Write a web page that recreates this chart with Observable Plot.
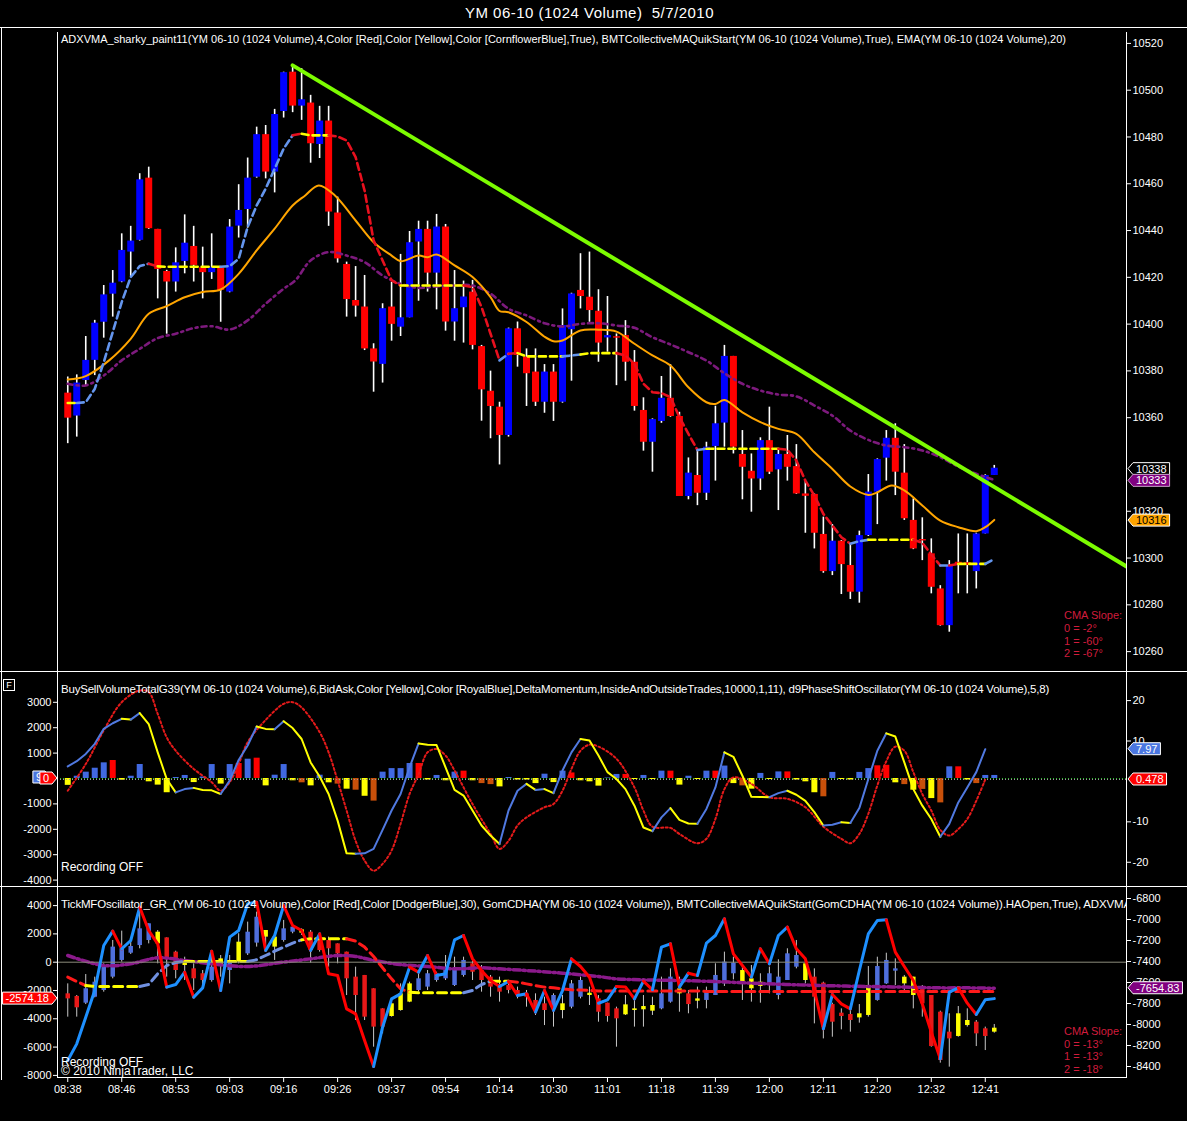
<!DOCTYPE html>
<html><head><meta charset="utf-8">
<script src="https://cdn.jsdelivr.net/npm/d3@7"></script>
<script src="https://cdn.jsdelivr.net/npm/@observablehq/plot@0.6"></script>
<style>
html,body{margin:0;padding:0;background:#000;}
#chart{position:relative;width:1187px;height:1121px;background:#000;overflow:hidden;font-family:"Liberation Sans",Arial,sans-serif;color:#fff;}
.layer{position:absolute;left:0;}
.txt{position:absolute;white-space:pre;color:#fff;line-height:1;}
.hl{position:absolute;height:1px;background:#fff;}
.vl{position:absolute;width:1px;background:#fff;}
</style></head><body><div id="chart"></div><script>
// ---------------- DATA ----------------
const xLabels = ["08:38","08:46","08:53","09:03","09:16","09:26","09:37","09:54","10:14","10:30","11:01","11:18","11:39","12:00","12:11","12:20","12:32","12:41"];
const xTickBars = [0,6,12,18,24,30,36,42,48,54,60,66,72,78,84,90,96,102];
const priceTicks = [10260,10280,10300,10320,10360,10380,10400,10420,10440,10460,10480,10500,10520];
const p2LeftTicks = [-4000,-3000,-2000,-1000,1000,2000,3000];
const p2RightTicks = [-20,-10,10,20];
const p3LeftTicks = [-8000,-6000,-4000,-2000,0,2000,4000];
const p3RightTicks = [-8400,-8200,-8000,-7800,-7600,-7400,-7200,-7000,-6800];

const mainOpen = [10370.5,10360.7,10375.9,10384.5,10400.8,10412.8,10418.0,10430.8,10435.8,10462.4,10440.5,10422.5,10418.0,10426.8,10433.2,10424.1,10422.0,10423.9,10413.7,10441.9,10449.0,10462.8,10481.0,10465.0,10490.9,10507.7,10493.2,10494.5,10476.8,10486.8,10447.5,10425.5,10410.1,10407.3,10389.4,10382.8,10407.3,10398.7,10402.7,10435.1,10440.5,10421.8,10441.5,10400.9,10407.0,10413.7,10390.4,10371.3,10364.5,10352.4,10398.0,10385.9,10379.5,10366.6,10379.5,10366.6,10397.6,10414.4,10411.5,10405.5,10394.1,10394.6,10395.1,10383.7,10363.1,10349.5,10358.4,10368.3,10360.5,10326.3,10335.3,10327.7,10347.7,10357.7,10386.2,10344.3,10337.1,10333.8,10350.2,10337.7,10344.3,10339.1,10327.4,10327.2,10310.1,10294.2,10307.2,10296.8,10285.4,10309.6,10328.2,10342.7,10351.2,10336.3,10316.1,10307.9,10301.8,10286.8,10271.1,10298.2,10298.0,10294.2,10310.3,10335.3];
const mainHigh = [10377.4,10378.3,10394.7,10401.6,10416.5,10422.9,10438.6,10441.8,10464.3,10467.1,10440.5,10423.0,10432.6,10446.7,10441.8,10432.9,10438.6,10424.2,10444.7,10459.6,10471.0,10484.2,10484.9,10491.8,10507.7,10510.2,10509.2,10497.8,10493.1,10493.1,10454.3,10426.5,10424.6,10420.8,10391.6,10408.7,10417.9,10429.8,10439.6,10444.0,10444.0,10446.9,10442.6,10422.9,10418.4,10418.7,10390.9,10379.9,10366.6,10398.3,10400.9,10389.4,10389.4,10382.7,10382.7,10406.5,10413.2,10430.1,10430.8,10414.7,10411.8,10395.8,10401.5,10388.7,10368.5,10359.5,10377.6,10382.7,10362.3,10342.8,10346.0,10349.5,10364.9,10390.9,10386.2,10354.5,10344.5,10351.4,10364.5,10346.0,10352.4,10348.5,10332.9,10327.4,10317.5,10314.3,10307.5,10306.1,10311.5,10335.7,10342.4,10354.5,10357.4,10348.5,10325.3,10317.2,10308.2,10288.2,10298.9,10310.3,10310.3,10310.6,10335.6,10339.6];
const mainLow = [10348.9,10351.7,10373.8,10378.0,10394.0,10403.0,10417.7,10420.1,10435.5,10440.5,10410.8,10395.7,10413.7,10421.5,10418.0,10410.8,10419.1,10400.8,10413.4,10436.8,10441.0,10462.4,10462.1,10456.1,10488.1,10490.4,10487.1,10468.8,10470.8,10441.8,10426.1,10403.0,10403.0,10388.7,10370.9,10374.8,10392.7,10394.7,10402.7,10409.8,10413.7,10406.1,10397.0,10392.7,10391.9,10389.0,10358.5,10351.0,10339.8,10351.7,10381.6,10364.8,10364.8,10361.9,10358.4,10366.2,10375.6,10406.5,10400.8,10383.7,10388.0,10373.7,10375.6,10362.8,10345.7,10336.7,10357.6,10360.2,10326.3,10324.9,10322.4,10324.6,10332.9,10347.4,10344.5,10324.9,10319.6,10328.9,10335.7,10320.3,10332.9,10327.2,10310.6,10303.9,10293.5,10292.5,10284.4,10282.3,10280.7,10309.2,10314.3,10332.9,10326.7,10316.1,10303.6,10298.9,10284.7,10270.9,10268.3,10284.7,10284.7,10286.8,10310.3,10335.3];
const mainClose = [10359.8,10374.8,10384.5,10400.4,10412.5,10417.5,10431.5,10435.5,10461.7,10440.8,10423.4,10418.0,10426.2,10434.6,10425.1,10422.0,10424.1,10414.4,10441.5,10448.6,10462.4,10481.0,10465.0,10489.6,10507.5,10493.2,10495.9,10477.1,10486.8,10447.9,10427.9,10410.5,10407.7,10389.4,10383.8,10406.6,10399.9,10402.7,10434.8,10440.5,10421.8,10441.5,10400.9,10406.6,10411.6,10390.9,10371.9,10364.8,10352.4,10398.0,10386.6,10378.8,10366.6,10379.5,10366.6,10399.4,10412.9,10411.8,10405.8,10391.9,10395.1,10394.0,10383.7,10364.8,10349.5,10359.2,10368.3,10360.5,10326.3,10336.3,10327.7,10347.4,10357.4,10386.2,10347.4,10338.8,10333.8,10350.2,10336.7,10344.3,10338.8,10327.4,10326.4,10310.6,10294.2,10307.2,10297.2,10285.4,10309.6,10328.2,10342.1,10351.2,10336.7,10316.8,10303.9,10307.3,10287.5,10271.1,10296.8,10297.1,10296.8,10310.3,10335.3,10338.4];

const emaPts = [[0,10376.3],[2,10377.8],[4.6,10384.5],[7,10393.7],[9,10404.4],[11,10407.7],[13,10411.5],[15,10413.7],[17,10414.8],[19,10421.5],[21,10431.5],[23,10440.8],[25,10450.7],[26.4,10455],[27.9,10459.3],[29.7,10455],[32,10444.3],[34,10435.0],[36,10429.3],[37,10426.9],[39,10429.3],[40,10428.6],[41,10429.8],[43,10425.1],[45,10420.1],[47,10411.5],[48,10405.6],[49,10405.1],[51,10400.9],[53,10394.6],[54,10392.7],[55,10393.0],[57,10397.3],[59,10397.6],[61,10396.8],[63,10391.6],[65,10386.6],[67,10382.3],[69,10373.0],[71,10366.6],[72,10365.9],[73,10367.6],[75,10362.3],[77,10358.1],[79,10355.2],[81,10353.1],[83,10345.2],[85,10338.1],[87,10330.6],[89,10327.0],[90,10328.1],[91.6,10331.0],[93,10328.9],[95,10322.5],[97,10316.0],[99,10313.2],[101,10311.5],[102,10313.2],[103,10316.3]];
const cmaPts = [[0,10374.5],[2,10373.8],[4,10378.0],[6,10384.5],[8,10389.4],[10,10394.0],[12,10395.9],[14,10398.3],[16,10399.1],[18,10397.7],[20,10401.6],[22,10408.7],[24,10415.1],[25.3,10418.7],[27,10427.2],[29,10430.8],[31,10429.3],[33,10426.5],[35,10420.8],[37,10417.2],[39,10415.5],[41,10416.1],[43,10416.5],[45,10416.5],[47,10413.0],[49,10406.6],[51,10403.7],[53,10400.4],[55,10399.0],[57,10400.1],[59,10400.4],[61,10399.4],[63,10398.4],[65,10394.4],[67,10391.3],[69,10388.0],[71,10384.4],[73,10379.0],[75,10374.5],[77,10371.6],[79,10369.9],[81,10369.1],[83,10365.2],[85,10360.9],[87,10354.5],[89,10350.5],[91,10348.1],[93,10347.4],[95,10346.0],[97,10343.1],[99,10339.1],[101,10336.0],[103,10333.4]];
const adxVals = [10366.3,10366.3,10366.6,10372.3,10383.7,10396.6,10409.4,10420.1,10424.8,10425.8,10424.7,10424.5,10424.5,10424.5,10424.5,10424.5,10424.5,10424.5,10424.8,10427.9,10441.5,10450.7,10457.9,10466.4,10475.0,10480.7,10481.4,10480.7,10480.7,10480.7,10480.2,10478.5,10471.4,10457.1,10435.8,10427.2,10418.7,10416.5,10416.5,10416.5,10416.5,10416.5,10416.5,10416.5,10416.5,10415.8,10407.3,10395.9,10384.5,10387.3,10387.6,10386.2,10386.2,10386.2,10386.2,10386.2,10386.6,10387.0,10387.6,10387.6,10387.6,10387.6,10386.6,10383.0,10374.5,10370.9,10370.5,10368.8,10360.2,10353.1,10346.2,10346.7,10346.7,10346.7,10346.7,10346.7,10346.7,10346.7,10346.7,10346.7,10346.3,10341.7,10333.1,10326.7,10318.9,10313.9,10308.9,10306.1,10307.2,10307.8,10307.8,10307.8,10307.8,10307.8,10307.8,10306.5,10301.5,10296.8,10296.8,10297.5,10297.5,10297.5,10297.5,10299.6];
const adxState = ("yybbbbbbbb"+"ryyyyyyybb"+"bbbbbbryyy"+"rrrrrrrryy"+"yyyyyrrrrb"+"ryyyyybbyy"+"yyrrrrrrrr"+"rbyyyyyyyy"+"rrrrrrrrbb"+"yyyyyrrrbr"+"yyyb").split("");
const trendLine = [[25,10510.6],[117.7,10296.4]];

const bsvVals = [-270,90,250,405,617,709,-70,90,551,-130,-260,-560,40,120,-160,60,550,-220,550,590,760,800,-290,130,550,-90,-170,-290,130,-170,-220,-420,-460,-700,-890,250,390,390,590,590,-60,120,-90,250,290,-90,-200,-240,-330,40,-60,-60,-200,170,-160,290,220,-90,-130,-300,20,160,160,-40,120,-40,290,290,-260,90,-40,290,290,490,-200,-290,-420,200,-40,260,260,-60,-130,-560,-720,240,-40,-60,240,390,500,520,-170,-240,-460,-430,-790,-960,460,460,-60,-200,120,120];
const bsvKind = ("ybbbbrybby"+"yybbybbybr"+"brybbyoyby"+"oyoyobbbbr"+"ybybryooyb"+"yyybybryyy"+"bbrybybryb"+"ybrbyoybyb"+"ryyyobyybb"+"rryoyoyobr"+"yobb").split("");
const oscVals = [3.7,5.0,6.8,9.3,13.0,14.4,15.5,15.3,16.9,14.2,7.2,0.6,-2.7,-1.9,-1.6,-2.1,-2.2,-3.1,0.2,5.3,8.9,13.6,13.0,12.9,14.9,13.2,10.5,4.7,1.2,-3.1,-9.7,-17.8,-17.9,-17.8,-16.7,-12.0,-7.2,-3.1,3.5,9.4,9.1,9.0,3.5,-2.1,-3.5,-7.2,-10.9,-13.4,-15.5,-7.2,-2.3,-0.6,-2.1,-1.9,-2.9,2.7,7.2,10.5,10.1,6.4,2.3,0.6,-1.9,-6.0,-11.4,-12.3,-8.9,-6.6,-9.5,-10.4,-10.5,-6.8,-1.5,7.2,6.1,1.4,-3.8,-3.85,-3.9,-2.9,-2.3,-3.3,-4.8,-7.6,-10.9,-10.7,-10.1,-10.3,-6.6,0.6,7.6,11.9,11.1,4.7,-1.9,-6.0,-9.3,-13.7,-10.5,-5.2,-1.5,2.3,7.97];
const sigPts = [[0,-2.3],[2,4.3],[4,12.6],[6,19.6],[8,22.5],[9,22.1],[10,16.7],[11,10.9],[12,7.6],[14,3.1],[16,-0.2],[17,-2.3],[18,-0.2],[19,4.3],[20,9.7],[22,15.2],[24,19.2],[25,19.6],[26,18.3],[28,12.2],[29,7.2],[30,0.2],[31,-7.2],[32,-14.7],[33,-19.6],[34,-22.1],[35,-20.4],[36,-17.1],[37,-10.5],[38,-3.1],[39,1.8],[40,7.2],[41,8.0],[42,6.4],[43,2.7],[45,-5.6],[47,-13.0],[48,-16.7],[49,-14.7],[50,-10.9],[51,-8.9],[53,-6.4],[54,-5.6],[55,-2.3],[56,3.1],[57,7.6],[58,9.1],[59,8.6],[61,5.6],[63,-1.5],[64,-7.2],[65,-11.2],[67,-11.5],[68,-13.0],[70,-15.3],[71,-14.2],[72,-9.3],[73,-1.9],[74,1.0],[76,-0.6],[78,-3.9],[80,-4.3],[82,-6.4],[84,-11.2],[86,-14.2],[87,-15.3],[88,-13.0],[89,-8.0],[90,-1.0],[91,5.0],[92,8.6],[93,7.6],[94,2.3],[95,-3.1],[96,-7.2],[97,-12.0],[98,-13.4],[99,-11.8],[100,-9.3],[101,-4.8],[102,0.478]];

const tmfVals = [-6948,-5770,-3886,-2001,1180,2193,944,1533,3889,2240,1298,-1765,-1577,-705,-2472,-1812,779,-2001,1769,2240,4125,4243,826,1887,4007,2593,2240,826,2004,-823,-941,-3297,-3650,-5535,-7372,-4592,-2590,-2236,-352,-705,473,-941,-823,1580,1887,237,-587,-1294,-1718,-1365,-2354,-2236,-3532,-2001,-3414,-2001,237,-304,-1058,-2900,-2660,-1718,-1750,-2590,-1341,-1954,1062,1298,-1765,-776,-941,1345,1887,3065,591,-234,-1058,944,-116,1887,2476,944,237,-2001,-4710,-2284,-2943,-3297,-587,2004,2947,2994,709,-304,-1294,-2943,-4946,-6831,-2119,-1812,-2896,-3697,-2660,-2574.18];
const cdOpen = [-7708,-7733,-7797,-7740,-7676,-7549,-7390,-7321,-7248,-7200,-7121,-7175,-7311,-7390,-7470,-7517,-7581,-7375,-7486,-7406,-7327,-7225,-7105,-7168,-7200,-7121,-7098,-7121,-7184,-7200,-7232,-7311,-7549,-7533,-7660,-7851,-7803,-7708,-7613,-7676,-7644,-7581,-7565,-7629,-7533,-7422,-7486,-7549,-7619,-7629,-7676,-7708,-7771,-7803,-7851,-7803,-7835,-7740,-7702,-7756,-7797,-7851,-7813,-7851,-7829,-7819,-7851,-7787,-7660,-7708,-7756,-7771,-7724,-7613,-7517,-7486,-7565,-7597,-7613,-7724,-7581,-7454,-7422,-7549,-7606,-7810,-7892,-7905,-7898,-7629,-7771,-7613,-7492,-7549,-7549,-7638,-7724,-7883,-8073,-7898,-7962,-7978,-8041,-8035];
const cdHigh = [-7613,-7724,-7524,-7549,-7422,-7200,-7111,-7200,-6914,-7041,-7105,-7175,-7302,-7359,-7422,-7486,-7295,-7343,-7343,-7136,-7025,-6930,-7105,-7136,-7009,-7057,-7089,-7105,-7168,-7168,-7232,-7311,-7454,-7533,-7660,-7851,-7771,-7613,-7597,-7517,-7486,-7502,-7343,-7359,-7359,-7390,-7438,-7533,-7549,-7613,-7644,-7676,-7708,-7740,-7708,-7724,-7581,-7549,-7644,-7724,-7797,-7835,-7724,-7756,-7724,-7740,-7549,-7470,-7549,-7676,-7644,-7644,-7422,-7311,-7359,-7438,-7438,-7517,-7454,-7384,-7279,-7200,-7390,-7470,-7597,-7797,-7851,-7851,-7810,-7448,-7359,-7321,-7375,-7533,-7549,-7629,-7724,-7873,-7898,-7829,-7851,-7962,-8025,-8000];
const cdLow = [-7930,-7930,-7810,-7746,-7692,-7565,-7406,-7333,-7279,-7232,-7422,-7549,-7565,-7581,-7676,-7644,-7597,-7549,-7613,-7422,-7343,-7263,-7263,-7390,-7216,-7136,-7152,-7416,-7311,-7454,-7422,-7724,-7962,-7962,-8216,-8089,-7930,-7873,-7792,-7692,-7676,-7597,-7581,-7638,-7549,-7581,-7692,-7740,-7787,-7708,-7756,-7835,-7914,-8010,-8025,-7946,-7851,-7756,-7819,-7978,-7978,-8216,-7914,-8025,-8025,-7914,-7860,-7797,-7883,-7898,-7851,-7851,-7724,-7638,-7575,-7771,-7787,-7797,-7708,-7765,-7581,-7470,-7613,-7994,-8137,-8121,-8051,-8073,-7987,-7930,-7778,-7619,-7629,-7676,-7851,-7930,-8216,-8368,-8406,-8121,-8025,-8210,-8248,-8083];
const cdClose = [-7756,-7841,-7660,-7597,-7438,-7263,-7279,-7257,-7089,-7041,-7232,-7375,-7486,-7438,-7565,-7581,-7454,-7438,-7406,-7216,-7121,-6978,-7168,-7263,-7089,-7073,-7130,-7295,-7295,-7279,-7327,-7565,-7724,-7930,-8025,-8025,-7924,-7867,-7787,-7565,-7517,-7517,-7486,-7470,-7390,-7502,-7581,-7644,-7692,-7676,-7724,-7740,-7873,-7867,-7724,-7867,-7613,-7581,-7724,-7883,-7924,-7946,-7908,-7867,-7860,-7873,-7708,-7549,-7708,-7810,-7778,-7692,-7533,-7406,-7416,-7597,-7660,-7638,-7517,-7549,-7327,-7343,-7581,-7740,-8025,-7978,-7924,-7962,-7937,-7914,-7448,-7390,-7470,-7613,-7724,-7803,-8210,-8343,-8137,-8114,-8010,-8089,-8114,-8073];
const cdKind = ("rrbbbbbbbb"+"yrryrrbyby"+"bbyybbyrrr"+"rrrrrryyyb"+"bbbbbrrrrr"+"rrrrbybbyr"+"rryyyybbyr"+"ybbbbyyybb"+"bbyrrrrryy"+"bbbyyrrrry"+"yrry").split("");
const p3AdxVals = [-7549,-7590,-7629,-7638,-7638,-7638,-7638,-7638,-7638,-7619,-7517,-7438,-7410,-7400,-7400,-7400,-7400,-7400,-7400,-7400,-7400,-7384,-7343,-7302,-7263,-7225,-7194,-7184,-7184,-7184,-7184,-7184,-7206,-7263,-7352,-7460,-7565,-7660,-7692,-7698,-7698,-7698,-7698,-7698,-7698,-7676,-7619,-7587,-7587,-7587,-7597,-7613,-7629,-7644,-7651,-7660,-7670,-7672,-7676,-7680,-7680,-7680,-7680,-7680,-7680,-7680,-7680,-7680,-7680,-7680,-7680,-7686,-7686,-7686,-7686,-7686,-7686,-7686,-7686,-7686,-7686,-7686,-7686,-7686,-7686,-7686,-7686,-7686,-7686,-7686,-7686,-7686,-7686,-7686,-7686,-7686,-7686,-7686,-7686,-7686,-7686,-7686,-7686,-7686];
const p3AdxState = ("rrryyyyyyb"+"bbbbyyyyyy"+"ybbbbbbyyy"+"yyrrrrrrry"+"yyyyybbbyy"+"rrrrrrrrrr"+"rrrrrrrrrr"+"rrrrrrrrrr"+"rrrrrrrrrr"+"rrrrrrrrrr"+"rrrr").split("");
const p3CmaPts = [[0,-7343],[4,-7438],[7,-7422],[10,-7365],[13,-7390],[16,-7422],[20,-7448],[24,-7406],[27,-7375],[30,-7343],[32,-7352],[34,-7390],[37,-7429],[40,-7448],[43,-7470],[46,-7460],[48,-7470],[51,-7486],[55,-7511],[59,-7543],[61,-7565],[64,-7575],[68,-7581],[72,-7591],[76,-7606],[80,-7619],[84,-7629],[89,-7638],[93,-7644],[97,-7651],[100,-7651],[103,-7654.83]];

// ---------------- HELPERS ----------------
const W = 1187, FONT = "'Liberation Sans', Arial, sans-serif";
const X_DOMAIN = [-1.14, 117.7];
const bars = d3.range(mainOpen.length);
const chart = document.getElementById("chart");
const styleT = {background: "transparent", color: "#fff", fontFamily: FONT, fontSize: "11px", overflow: "visible"};
const common = {width: W, marginLeft: 57, marginRight: 61, marginTop: 0};
const ADX_COL = {r: "#e8101e", y: "#ffff00", b: "#6495ed"};
const P3ADX_COL = {r: "#ff1a1a", y: "#ffff00", b: "#7090e0"};
const HIST_COL = {b: "#4169e1", r: "#ff0000", y: "#ffff00", o: "#c8500a"};
const CD_COL = {b: "#4f6fdc", r: "#e81818", y: "#ffff00"};
const fmt = d => String(d);

function runs(xs, vs, ks) {
  const rows = []; let run = -1, cur = null;
  for (let i = 1; i < xs.length; i++) {
    if (ks[i] !== cur) { run++; cur = ks[i]; rows.push({x: xs[i-1], y: vs[i-1], run, k: cur}); }
    rows.push({x: xs[i], y: vs[i], run, k: cur});
  }
  return rows;
}
function place(svg, top) {
  const d = document.createElement("div");
  d.className = "layer"; d.style.top = top + "px";
  d.appendChild(svg); chart.appendChild(d);
  return svg;
}
function tag(svg, value, text, o) {
  const y = svg.scale("y").apply(value);
  const g = d3.select(svg).append("g").attr("font-size", 11).attr("font-family", FONT).attr("text-anchor", "start");
  const t = g.append("text").attr("fill", o.color || "#fff").attr("text-anchor", "start").attr("dy", "0.36em").text(text);
  const tw = t.node().getComputedTextLength();
  const h = 12, w = tw + 6, a = 5, xt = o.x;
  let p, tx;
  if (o.side === "left") {
    p = `M${xt},${y}L${xt-a},${y-h/2}L${xt-a-w},${y-h/2}L${xt-a-w},${y+h/2}L${xt-a},${y+h/2}Z`; tx = xt - a - w + 3;
  } else {
    p = `M${xt},${y}L${xt+a},${y-h/2}L${xt+a+w},${y-h/2}L${xt+a+w},${y+h/2}L${xt+a},${y+h/2}Z`; tx = xt + a + 3;
  }
  g.insert("path", "text").attr("d", p).attr("fill", o.fill).attr("stroke", o.stroke || "none").attr("stroke-width", 1);
  t.attr("x", tx).attr("y", y);
}
function text(str, left, top, size, color, target, extra) {
  const s = document.createElement("div");
  s.className = "txt"; s.textContent = str;
  s.style.left = left + "px"; s.style.top = top + "px"; s.style.fontSize = size + "px";
  if (color) s.style.color = color;
  if (extra) Object.assign(s.style, extra);
  chart.appendChild(s);
  if (target) {
    const w = s.getBoundingClientRect().width;
    s.style.letterSpacing = ((target - w) / str.length) + "px";
  }
  return s;
}
function line(cls, left, top, len) {
  const d = document.createElement("div"); d.className = cls;
  d.style.left = left + "px"; d.style.top = top + "px";
  if (cls === "hl") d.style.width = len + "px"; else d.style.height = len + "px";
  chart.appendChild(d);
}

// ---------------- MAIN PANEL ----------------
const candles = bars.map(i => ({i, o: mainOpen[i], h: mainHigh[i], l: mainLow[i], c: mainClose[i]}));
const adxRows = runs(bars, adxVals, adxState);
const mainSvg = place(Plot.plot({
  ...common, height: 644, marginBottom: 0,
  x: {domain: X_DOMAIN, axis: null},
  y: {domain: [10251.5, 10526.8]},
  color: {type: "identity"},
  style: styleT,
  marks: [
    Plot.axisY({anchor: "right", ticks: priceTicks, tickFormat: fmt, tickSize: 4, tickPadding: 2, label: null}),
    Plot.ruleX(candles, {x: "i", y1: "l", y2: "h", stroke: "#fff", strokeWidth: 1.6, clip: true}),
    Plot.ruleX(candles, {x: "i", y1: "o", y2: "c", stroke: d => d.c >= d.o ? "#0000ff" : "#ff0000", strokeWidth: 7, clip: true}),
    Plot.line(cmaPts, {x: d => d[0], y: d => d[1], stroke: "#7d1a7d", strokeWidth: 2.6, strokeDasharray: "5,4,2,4", curve: "catmull-rom", clip: true}),
    Plot.line(emaPts, {x: d => d[0], y: d => d[1], stroke: "#ffa500", strokeWidth: 2, curve: "catmull-rom", clip: true}),
    Plot.line(adxRows, {x: "x", y: "y", z: "run", stroke: d => ADX_COL[d.k], strokeWidth: 2.6, strokeDasharray: "7,4", clip: true}),
    Plot.line(trendLine, {x: d => d[0], y: d => d[1], stroke: "#7cfc00", strokeWidth: 4, clip: true})
  ]
}), 27);

// ---------------- PANEL 2 ----------------
const hist = bars.map(i => ({i, v: bsvVals[i], k: bsvKind[i]}));
const oscBars = oscVals.map((v, i) => i);
const oscState = oscVals.map((v, i) => i === 0 ? "b" : (v >= oscVals[i-1] ? "b" : "y"));
const oscRows = runs(oscBars, oscVals, oscState);
const p2L = place(Plot.plot({
  ...common, height: 215, marginBottom: 0,
  x: {domain: X_DOMAIN, axis: null}, y: {domain: [-4252, 4213]},
  color: {type: "identity"}, style: styleT,
  marks: [
    Plot.axisY({anchor: "left", ticks: p2LeftTicks, tickFormat: fmt, tickSize: 4, tickPadding: 2, label: null}),
    Plot.ruleY([0], {stroke: "#2fbf2f", strokeDasharray: "1,2"}),
    Plot.ruleX(hist, {x: "i", y1: d => 0, y2: "v", stroke: d => HIST_COL[d.k], strokeWidth: 6})
  ]
}), 671);
const p2R = place(Plot.plot({
  ...common, height: 215, marginBottom: 0,
  x: {domain: X_DOMAIN, axis: null}, y: {domain: [-26.0, 27.2]},
  color: {type: "identity"}, style: styleT,
  marks: [
    Plot.axisY({anchor: "right", ticks: p2RightTicks, tickFormat: fmt, tickSize: 4, tickPadding: 2, label: null}),
    Plot.ruleY([0.478], {stroke: "#9a9a9a", strokeDasharray: "1,2"}),
    Plot.line(sigPts, {x: d => d[0], y: d => d[1], stroke: "#e41a1a", strokeWidth: 2, strokeDasharray: "2,2.5", curve: "catmull-rom", clip: true}),
    Plot.line(oscRows, {x: "x", y: "y", z: "run", stroke: d => d.k === "b" ? "#5079e0" : "#ffff00", strokeWidth: 2, clip: true})
  ]
}), 671);

// ---------------- PANEL 3 ----------------
const cd = bars.map(i => ({i, o: cdOpen[i], h: cdHigh[i], l: cdLow[i], c: cdClose[i], k: cdKind[i]}));
const p3AdxRows = runs(bars, p3AdxVals, p3AdxState);
const tmfState = tmfVals.map((v, i) => i === 0 ? "b" : (v >= tmfVals[i-1] ? "b" : "r"));
const tmfRows = runs(bars, tmfVals, tmfState);
const p3R = place(Plot.plot({
  ...common, height: 235, marginBottom: 44,
  x: {domain: X_DOMAIN, axis: null}, y: {domain: [-8504.8, -6685.7]},
  color: {type: "identity"}, style: styleT,
  marks: [
    Plot.axisY({anchor: "right", ticks: p3RightTicks, tickFormat: fmt, tickSize: 4, tickPadding: 2, label: null}),
    Plot.ruleX(cd, {x: "i", y1: "l", y2: "h", stroke: "#c8c8c8", strokeWidth: 1, clip: true}),
    Plot.ruleX(cd, {x: "i", y1: "o", y2: "c", stroke: d => CD_COL[d.k], strokeWidth: 4.5, clip: true}),
    Plot.line(p3CmaPts, {x: d => d[0], y: d => d[1], stroke: "#8b1a8b", strokeWidth: 3.5, strokeDasharray: "7,3,2,3", curve: "catmull-rom", clip: true}),
    Plot.line(p3AdxRows, {x: "x", y: "y", z: "run", stroke: d => P3ADX_COL[d.k], strokeWidth: 3, strokeDasharray: "9,5", clip: true})
  ]
}), 886);
const p3L = place(Plot.plot({
  ...common, height: 235, marginBottom: 44,
  x: {domain: X_DOMAIN}, y: {domain: [-8149, 5350]},
  color: {type: "identity"}, style: styleT,
  marks: [
    Plot.axisY({anchor: "left", ticks: p3LeftTicks, tickFormat: fmt, tickSize: 4, tickPadding: 2, label: null}),
    Plot.axisX({anchor: "bottom", ticks: xTickBars, tickFormat: d => xLabels[xTickBars.indexOf(d)], tickSize: 5, tickPadding: 3, label: null}),
    Plot.ruleY([0], {stroke: "#8c8c7c", strokeWidth: 1}),
    Plot.line(tmfRows, {x: "x", y: "y", z: "run", stroke: d => d.k === "b" ? "#1e90ff" : "#ff0000", strokeWidth: 3, clip: true})
  ]
}), 886);

// ---------------- FRAME LINES ----------------
line("hl", 0, 27, 1187);
line("hl", 0, 671, 1187);
line("hl", 0, 886, 1187);
line("hl", 57, 1077, 1070);
line("vl", 57, 32, 1045);
line("vl", 1126, 32, 1045);
line("vl", 1, 27, 1053);

// ---------------- TAGS ----------------
tag(mainSvg, 10338, "10338", {x: 1128, fill: "#000", stroke: "#fff"});
tag(mainSvg, 10333, "10333", {x: 1128, fill: "#800080", stroke: "#c8a0c8"});
tag(mainSvg, 10316, "10316", {x: 1128, fill: "#ffa500", color: "#000", stroke: "#fff"});
tag(p2R, 7.97, "7.97", {x: 1128, fill: "#4a76e0", stroke: "#fff"});
tag(p2R, 0.478, "0.478", {x: 1128, fill: "#ff0000", stroke: "#fff"});
tag(p2L, 40, "9", {x: 50, side: "left", fill: "#4a76e0", stroke: "#fff"});
tag(p2L, 0, "0", {x: 57, side: "left", fill: "#ff0000", stroke: "#fff"});
tag(p3L, -2574.18, "-2574.18", {x: 57, side: "left", fill: "#ff0000", stroke: "#fff"});
tag(p3R, -7654.83, "-7654.83", {x: 1128, fill: "#800080", stroke: "#fff"});

// ---------------- TEXTS ----------------
text("YM 06-10 (1024 Volume)  5/7/2010", 465, 5, 15, "#fff", 249);
text("ADXVMA_sharky_paint11(YM 06-10 (1024 Volume),4,Color [Red],Color [Yellow],Color [CornflowerBlue],True), BMTCollectiveMAQuikStart(YM 06-10 (1024 Volume),True), EMA(YM 06-10 (1024 Volume),20)", 61, 34, 11, "#fff", 1005);
text("BuySellVolumeTotalG39(YM 06-10 (1024 Volume),6,BidAsk,Color [Yellow],Color [RoyalBlue],DeltaMomentum,InsideAndOutsideTrades,10000,1,11), d9PhaseShiftOscillator(YM 06-10 (1024 Volume),5,8)", 61, 684, 11.5, "#fff", 988);
const p3head = "TickMFOscillator_GR_(YM 06-10 (1024 Volume),Color [Red],Color [DodgerBlue],30), GomCDHA(YM 06-10 (1024 Volume)), BMTCollectiveMAQuikStart(GomCDHA(YM 06-10 (1024 Volume)).HAOpen,True), ";
const h3 = text(p3head, 61, 899, 11.5, "#fff", 1023);
const clipBox = document.createElement("div");
Object.assign(clipBox.style, {position: "absolute", left: "61px", top: "899px", width: "1065px", height: "14px", overflow: "hidden"});
chart.appendChild(clipBox);
h3.style.left = "0px"; h3.style.top = "0px";
h3.textContent = p3head + "ADXVMA";
clipBox.appendChild(h3);
text("Recording OFF", 61, 861, 12, "#fff");
text("Recording OFF", 61, 1056, 12, "#fff");
text("© 2010 NinjaTrader, LLC", 61, 1065, 12, "#fff");
const cmaRed = "#d01c3c";
[["CMA Slope:", 610], ["0 = -2°", 623], ["1 = -60°", 635.5], ["2 = -67°", 648]].forEach(([s, t]) => text(s, 1064, t, 11, cmaRed));
[["CMA Slope:", 1026], ["0 = -13°", 1039], ["1 = -13°", 1051], ["2 = -18°", 1064]].forEach(([s, t]) => text(s, 1064, t, 11, cmaRed));
const fbox = text("F", 3, 679, 9, "#fff");
Object.assign(fbox.style, {width: "10px", height: "10px", border: "1px solid #fff", textAlign: "center", lineHeight: "10px"});
</script></body></html>
